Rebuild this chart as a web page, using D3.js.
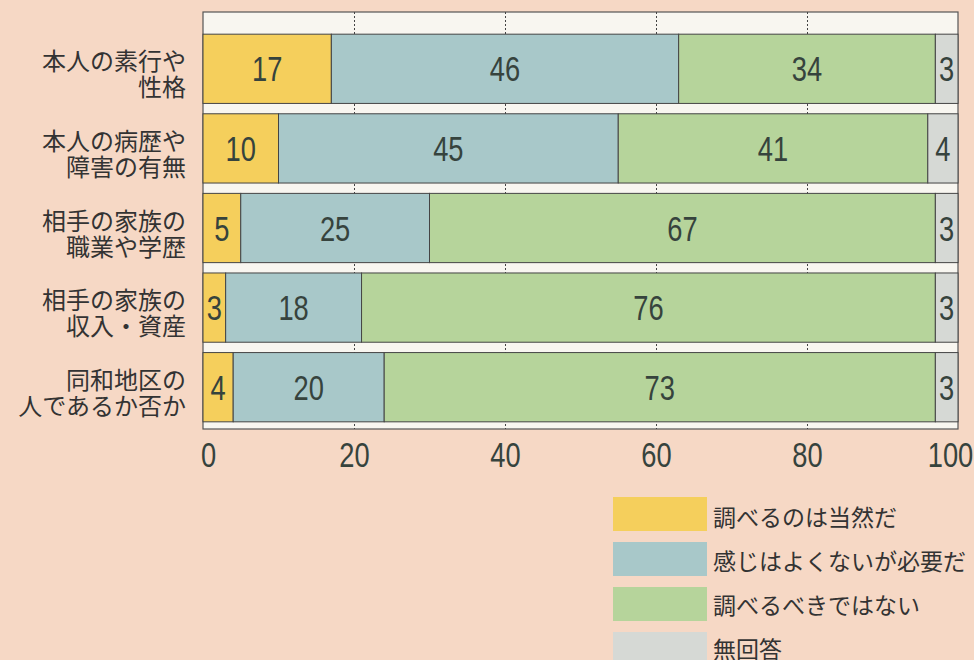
<!DOCTYPE html>
<html>
<head>
<meta charset="utf-8">
<script src="https://cdn.jsdelivr.net/npm/d3@7"></script>
<style>
  body { margin: 0; background: #f6d8c5; }
  svg { display: block; }
  .num { font-family: "Liberation Sans", "DejaVu Sans", sans-serif; }
  .jp { font-family: "Noto Sans CJK JP", sans-serif; }
</style>
</head>
<body>
<svg class="chart" width="974" height="660"></svg>
<script>
const categories = [
  ["本人の素行や", "性格"],
  ["本人の病歴や", "障害の有無"],
  ["相手の家族の", "職業や学歴"],
  ["相手の家族の", "収入・資産"],
  ["同和地区の", "人であるか否か"]
];
const seriesNames = ["調べるのは当然だ", "感じはよくないが必要だ", "調べるべきではない", "無回答"];
const seriesColors = ["#f5cf5c", "#a8c8c9", "#b6d49b", "#d6d9d5"];
const values = [
  [17, 46, 34, 3],
  [10, 45, 41, 4],
  [5, 25, 67, 3],
  [3, 18, 76, 3],
  [4, 20, 73, 3]
];
const xTicks = [0, 20, 40, 60, 80, 100];

let svg = d3.select('.chart');
let width = 974, height = 660;
let narrow = 0.78; // condensed look for the digits

let margin = { left: 203, right: 16, top: 12, bottom: 231 };

let xscale = d3.scaleLinear()
  .domain([0, 100])
  .range([margin.left, width - margin.right]);

let yscale = d3.scaleBand()
  .domain(d3.range(categories.length))
  .range([29, 427])
  .paddingInner(0.13)
  .paddingOuter(0.065);

// white plot box
svg.append('rect')
  .attr('x', xscale(0))
  .attr('y', margin.top)
  .attr('width', xscale(100) - xscale(0))
  .attr('height', 429 - margin.top)
  .style('fill', '#f8f6f0')
  .style('stroke', '#555')
  .style('stroke-width', 1.2);

// dotted grid
svg.append('g')
  .attr('class', 'grid')
  .attr('transform', `translate(0,${margin.top})`)
  .call(d3.axisBottom(xscale).tickValues([20, 40, 60, 80]).tickSize(429 - margin.top).tickFormat(''))
  .call(g => g.select('.domain').remove())
  .selectAll('line')
  .style('stroke', '#444')
  .style('stroke-dasharray', '2,2');

// stacked segments
let stacked = values.map(row => {
  let acc = 0;
  return row.map((v, j) => {
    let seg = { start: acc, end: acc + v, value: v, series: j };
    acc += v;
    return seg;
  });
});

let rows = svg.append('g').selectAll('g.row')
  .data(stacked)
  .join('g')
  .attr('class', 'row');

rows.each(function(row, i) {
  let g = d3.select(this);
  g.selectAll('rect')
    .data(row)
    .join('rect')
    .attr('x', d => xscale(d.start))
    .attr('y', yscale(i))
    .attr('width', d => xscale(d.end) - xscale(d.start))
    .attr('height', yscale.bandwidth())
    .style('fill', d => seriesColors[d.series])
    .style('stroke', '#444')
    .style('stroke-width', 1);

  g.selectAll('text')
    .data(row)
    .join('text')
    .attr('class', 'num')
    .attr('transform', d => `translate(${(xscale(d.start) + xscale(d.end)) / 2},${yscale(i) + yscale.bandwidth() / 2}) scale(${narrow},1)`)
    .attr('dy', '0.36em')
    .attr('text-anchor', 'middle')
    .style('font-size', '35px')
    .style('fill', '#36433d')
    .text(d => d.value);
});

// category labels, two lines each
svg.append('g').selectAll('text')
  .data(categories)
  .join('text')
  .attr('class', 'jp')
  .attr('text-anchor', 'end')
  .style('font-size', '24px')
  .style('fill', '#333')
  .each(function(lines, i) {
    let yc = yscale(i) + yscale.bandwidth() / 2;
    d3.select(this).selectAll('tspan')
      .data(lines)
      .join('tspan')
      .attr('x', 186)
      .attr('y', (d, k) => yc - 9 + k * 26)
      .attr('dominant-baseline', 'central')
      .text(d => d);
  });

// x axis
let xAxis = d3.axisBottom(xscale).tickValues(xTicks).tickSize(0).tickPadding(0);
let xg = svg.append('g')
  .attr('class', 'xAxis')
  .attr('transform', `translate(0,429)`)
  .call(xAxis);
xg.select('.domain').remove();
xg.selectAll('text')
  .attr('class', 'num')
  .attr('y', null)
  .attr('dy', '0.36em')
  .attr('transform', d => `translate(${d === 0 ? 5 : (d === 100 ? -8 : 0)},25) scale(${narrow},1)`)
  .style('font-size', '35px')
  .style('fill', '#36433d');

// legend
let legend = svg.append('g').selectAll('g')
  .data(seriesNames)
  .join('g')
  .attr('transform', (d, i) => `translate(613,${497 + i * 45})`);

legend.append('rect')
  .attr('width', 94)
  .attr('height', 34)
  .style('fill', (d, i) => seriesColors[i]);

legend.append('text')
  .attr('class', 'jp')
  .attr('x', 100)
  .attr('y', (d, i) => 19 - i)
  .attr('dominant-baseline', 'central')
  .style('font-size', '23px')
  .style('fill', '#333')
  .text(d => d);
</script>
</body>
</html>
